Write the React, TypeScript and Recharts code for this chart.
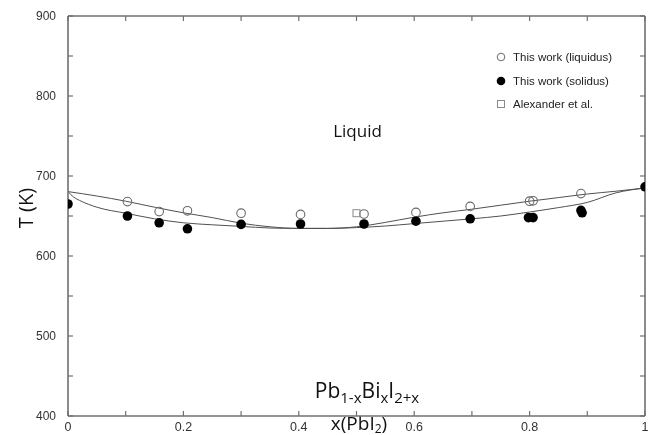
import React from 'react';
import { ComposedChart, Line, Scatter, XAxis, YAxis, Legend, Customized } from 'recharts';

// ---- data ----
const liquidusX = [0.103, 0.158, 0.207, 0.3, 0.403, 0.513, 0.603, 0.697, 0.8, 0.806, 0.889];
const liquidusT = [668, 655.5, 656.5, 653.5, 652, 652.5, 654.5, 662, 668.5, 669, 678];

const solidusX = [0, 0.103, 0.158, 0.207, 0.3, 0.403, 0.513, 0.603, 0.697, 0.798, 0.806, 0.889, 0.891, 1];
const solidusT = [665, 650, 641.5, 634, 639.5, 640, 640, 643.5, 646.5, 648, 648, 657, 654, 686.5];

const alexanderX = [0.5];
const alexanderT = [653.5];

const liqCurveX = [0, 0.05, 0.1, 0.15, 0.2, 0.25, 0.3, 0.35, 0.4, 0.45, 0.5, 0.55, 0.6, 0.65, 0.7, 0.75, 0.8, 0.85, 0.9, 0.95, 1];
const liqCurveT = [680.5, 675, 668.5, 661, 654, 648, 641, 636.5, 634.5, 634.5, 636.5, 642, 648.5, 654, 658.5, 663.5, 668.5, 673, 677.5, 681, 685];

const solCurveX = [0, 0.01, 0.02, 0.05, 0.1, 0.15, 0.2, 0.25, 0.3, 0.35, 0.4, 0.45, 0.5, 0.55, 0.6, 0.65, 0.7, 0.75, 0.8, 0.85, 0.9, 0.95, 1];
const solCurveT = [680.5, 673.5, 669.5, 661, 653.5, 646.5, 641.5, 639, 637, 635, 634.5, 634.5, 635.5, 637.5, 640.5, 643.5, 646.5, 650, 655, 660.5, 667, 679, 685];

const xTicks = [0, 0.1, 0.2, 0.3, 0.4, 0.5, 0.6, 0.7, 0.8, 0.9, 1];
const xLabelTicks = [0, 0.2, 0.4, 0.6, 0.8, 1];
const yTicks = [400, 450, 500, 550, 600, 650, 700, 750, 800, 850, 900];
const yLabelTicks = [400, 500, 600, 700, 800, 900];

const seriesNames = ['This work (liquidus)', 'This work (solidus)', 'Alexander et al.'];

const zip = (xs: number[], ts: number[]) => xs.map((x, i) => ({ x, T: ts[i] }));
const liquidusData = zip(liquidusX, liquidusT);
const solidusData = zip(solidusX, solidusT);
const alexanderData = zip(alexanderX, alexanderT);
const liqCurve = zip(liqCurveX, liqCurveT);
const solCurve = zip(solCurveX, solCurveT);

const AXIS = '#707070';
const TICKLEN = 5;
const tickFont = "'Liberation Sans', Arial, sans-serif";

const fmtX = (v: number) => (v === 0 ? '0' : v === 1 ? '1' : v.toFixed(1));
const isLabelX = (v: number) => xLabelTicks.some((t) => Math.abs(t - v) < 1e-6);
const isLabelY = (v: number) => yLabelTicks.includes(v);

const BottomTick = (p: any) => {
  const { x, y, payload } = p;
  const v = payload.value;
  return (
    <g>
      <line x1={x} x2={x} y1={y} y2={y - TICKLEN} stroke={AXIS} strokeWidth={1.2} />
      {isLabelX(v) && (
        <text x={x} y={y + 15} textAnchor="middle" fontFamily={tickFont} fontSize={12.5} fill="#333">
          {fmtX(v)}
        </text>
      )}
    </g>
  );
};

const TopTick = (p: any) => {
  const { x, y } = p;
  return <line x1={x} x2={x} y1={y} y2={y + TICKLEN} stroke={AXIS} strokeWidth={1.2} />;
};

const LeftTick = (p: any) => {
  const { x, y, payload } = p;
  const v = payload.value;
  return (
    <g>
      <line x1={x} x2={x + TICKLEN} y1={y} y2={y} stroke={AXIS} strokeWidth={1.2} />
      {isLabelY(v) && (
        <text x={x - 12} y={y} dy="0.36em" textAnchor="end" fontFamily={tickFont} fontSize={12} fill="#333">
          {v}
        </text>
      )}
    </g>
  );
};

const RightTick = (p: any) => {
  const { x, y } = p;
  return <line x1={x} x2={x - TICKLEN} y1={y} y2={y} stroke={AXIS} strokeWidth={1.2} />;
};

const OpenCircle = (p: any) => <circle cx={p.cx} cy={p.cy} r={4.3} fill="none" stroke="#6a6a6a" strokeWidth={1.1} />;
const FilledCircle = (p: any) => <circle cx={p.cx} cy={p.cy} r={4.8} fill="#000" />;
const OpenSquare = (p: any) => (
  <rect x={p.cx - 3.5} y={p.cy - 3.5} width={7} height={7} fill="none" stroke="#8a8a8a" strokeWidth={1} />
);

const legendMarkers = [
  <circle cx={6} cy={6} r={3.8} fill="none" stroke="#6a6a6a" strokeWidth={1} />,
  <circle cx={6} cy={6} r={4.3} fill="#000" />,
  <rect x={2.5} y={2.5} width={7} height={7} fill="none" stroke="#8a8a8a" strokeWidth={1} />,
];

const renderLegend = () => (
  <div style={{ position: 'relative', width: 150, height: 80, fontFamily: tickFont, fontSize: 11.5, color: '#222' }}>
    {seriesNames.map((name, i) => (
      <div
        key={name}
        style={{ position: 'absolute', left: 0, top: i * 23.5, height: 16, display: 'flex', alignItems: 'center', whiteSpace: 'nowrap' }}
      >
        <svg width={12} height={12} style={{ display: 'block' }}>
          {legendMarkers[i]}
        </svg>
        <span style={{ marginLeft: 6 }}>{name}</span>
      </div>
    ))}
  </div>
);

const Annotations = () => (
  <g>
    <text x={349.5} y={129} textAnchor="middle" fontFamily="'Open Sans', sans-serif" fontSize={17} fill="#111">
      Liquid
    </text>
    <text x={359} y={390} textAnchor="middle" fontFamily="'Open Sans', sans-serif" fontSize={21} fill="#111">
      Pb
      <tspan fontSize={15} dy={5}>1-x</tspan>
      <tspan dy={-5}>Bi</tspan>
      <tspan fontSize={15} dy={5}>x</tspan>
      <tspan dy={-5}>I</tspan>
      <tspan fontSize={15} dy={5}>2+x</tspan>
    </text>
    <text
      x={17}
      y={200}
      textAnchor="middle"
      dominantBaseline="central"
      transform="rotate(-90 17 200)"
      fontFamily="'Open Sans', sans-serif"
      fontSize={20}
      fill="#111"
    >
      T (K)
    </text>
    <text x={351} y={422} textAnchor="middle" fontFamily="'Open Sans', sans-serif" fontSize={19} fill="#111">
      x(PbI
      <tspan fontSize={12} dy={2.5}>2</tspan>
      <tspan dy={-2.5}>)</tspan>
    </text>
  </g>
);

export default function App() {
  return (
    <div style={{ position: 'fixed', left: 8, top: 8 }}>
      <ComposedChart width={640} height={427} margin={{ top: 7, right: 2, bottom: 0, left: 0 }}>
        <XAxis
          xAxisId="bottom"
          type="number"
          dataKey="x"
          domain={[0, 1]}
          ticks={xTicks}
          interval={0}
          height={19}
          tickSize={0}
          tickMargin={0}
          tickLine={false}
          axisLine={{ stroke: AXIS, strokeWidth: 1.6 }}
          tick={(p: any) => <BottomTick {...p} />}
          allowDataOverflow
        />
        <XAxis
          xAxisId="top"
          orientation="top"
          type="number"
          dataKey="x"
          domain={[0, 1]}
          ticks={xTicks}
          interval={0}
          height={1}
          tickSize={0}
          tickMargin={0}
          tickLine={false}
          axisLine={{ stroke: AXIS, strokeWidth: 1.6 }}
          tick={(p: any) => <TopTick {...p} />}
          allowDataOverflow
        />
        <YAxis
          yAxisId="left"
          type="number"
          dataKey="T"
          domain={[400, 900]}
          ticks={yTicks}
          interval={0}
          width={60}
          tickSize={0}
          tickMargin={0}
          tickLine={false}
          axisLine={{ stroke: AXIS, strokeWidth: 1.6 }}
          tick={(p: any) => <LeftTick {...p} />}
          allowDataOverflow
        />
        <YAxis
          yAxisId="right"
          orientation="right"
          type="number"
          dataKey="T"
          domain={[400, 900]}
          ticks={yTicks}
          interval={0}
          width={1}
          tickSize={0}
          tickMargin={0}
          tickLine={false}
          axisLine={{ stroke: AXIS, strokeWidth: 1.6 }}
          tick={(p: any) => <RightTick {...p} />}
          allowDataOverflow
        />
        <Line
          xAxisId="bottom"
          yAxisId="left"
          data={liqCurve}
          dataKey="T"
          type="monotone"
          stroke="#505050"
          strokeWidth={1}
          dot={false}
          activeDot={false}
          legendType="none"
          isAnimationActive={false}
        />
        <Line
          xAxisId="bottom"
          yAxisId="left"
          data={solCurve}
          dataKey="T"
          type="monotone"
          stroke="#505050"
          strokeWidth={1}
          dot={false}
          activeDot={false}
          legendType="none"
          isAnimationActive={false}
        />
        <Scatter
          xAxisId="bottom"
          yAxisId="left"
          name={seriesNames[0]}
          data={liquidusData}
          dataKey="T"
          shape={(p: any) => <OpenCircle {...p} />}
          isAnimationActive={false}
        />
        <Scatter
          xAxisId="bottom"
          yAxisId="left"
          name={seriesNames[1]}
          data={solidusData}
          dataKey="T"
          shape={(p: any) => <FilledCircle {...p} />}
          isAnimationActive={false}
        />
        <Scatter
          xAxisId="bottom"
          yAxisId="left"
          name={seriesNames[2]}
          data={alexanderData}
          dataKey="T"
          shape={(p: any) => <OpenSquare {...p} />}
          isAnimationActive={false}
        />
        <Legend
          layout="vertical"
          align="center"
          verticalAlign="middle"
          content={renderLegend}
          wrapperStyle={{ position: 'absolute', left: 487, top: 41, width: 150, height: 80 }}
        />
        <Customized component={<Annotations />} />
      </ComposedChart>
    </div>
  );
}
